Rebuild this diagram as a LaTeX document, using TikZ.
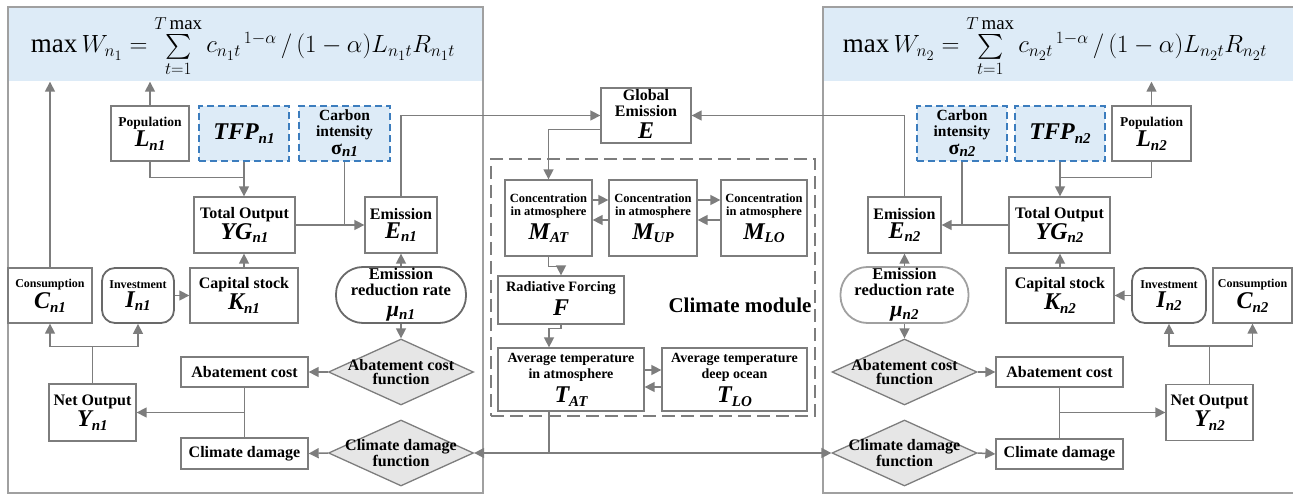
\documentclass[tikz,border=0pt]{standalone}
\usepackage{amsmath}
\usepackage{fontspec}
\setmainfont{Liberation Serif}
\usetikzlibrary{arrows.meta,shapes.geometric,calc}
\definecolor{hdrblue}{RGB}{221,235,247}
\definecolor{dblue}{RGB}{60,125,190}
\definecolor{lgray}{RGB}{125,125,125}
\definecolor{dgray}{RGB}{105,105,105}
\definecolor{pgray}{RGB}{160,160,160}
\definecolor{dfill}{RGB}{230,230,230}
\newcommand{\vb}[2]{{\fontsize{24}{26}\selectfont\bfseries\itshape #1\raisebox{-0.3ex}{\fontsize{15}{15}\selectfont #2}}}
\newcommand{\sig}[1]{{\fontsize{20}{20}\selectfont σ}\raisebox{-0.3ex}{\fontsize{15}{15}\selectfont\itshape #1}}
\newcommand{\mub}[1]{{\fontsize{22}{22}\selectfont\itshape μ}\raisebox{-0.3ex}{\fontsize{15}{15}\selectfont\itshape #1}}
\newcommand{\welf}[1]{$\max W_{n_#1} = \sum\limits_{t=1}^{T\,\mathrm{max}} {c_{n_#1t}}^{\,1-\alpha}\,/\,(1-\alpha)L_{n_#1t}R_{n_#1t}$}
\begin{document}
\begin{tikzpicture}[x=1pt,y=-1pt,
  every node/.style={inner sep=0pt},
  sz/.style 2 args={minimum width=#1pt,minimum height=#2pt},
  fz/.style 2 args={font=\bfseries\fontsize{#1}{#2}\selectfont},
  box/.style={draw=lgray,line width=1.3pt,fill=white,align=center},
  dbox/.style={draw=dblue,line width=1.3pt,dash pattern=on 7pt off 4pt,fill=hdrblue,align=center},
  rbox/.style={box,rounded corners=13pt,draw=dgray,line width=1.8pt},
  sbox/.style={box,rounded corners=27pt,line width=1.8pt},
  dia/.style={diamond,draw=lgray,line width=1.3pt,fill=dfill,minimum width=145pt,minimum height=66pt},
  dtext/.style={align=center,font=\bfseries\fontsize{16}{14}\selectfont},
  ln/.style={draw=lgray,line width=1.5pt},
  arr/.style={ln,-{Triangle[length=10pt,width=10pt]}},
  arrlr/.style={ln,{Triangle[length=10pt,width=10pt]}-{Triangle[length=10pt,width=10pt]}},
  panel/.style={draw=pgray,line width=1.3pt},
  cmbox/.style={draw=lgray,line width=1.3pt,dash pattern=on 13pt off 6pt},
  hdr/.style={fill=hdrblue,minimum height=74pt},
  frm/.style={font=\fontsize{27}{30}\selectfont},
]
\useasboundingbox (0,0) rectangle (1293,494);
% headers
\node[hdr,minimum width=473pt] (hdrL) at (245.5,44.5) {};
\node[frm] (fL) at (243,46) {\welf{1}};
\node[hdr,minimum width=470pt] (hdrR) at (1058,44.5) {};
\node[frm] (fR) at (1055,46) {\welf{2}};
% panels
\draw[panel] (8,7) rectangle (483,493);
\draw[panel] (1293,7) -- (823,7) -- (823,493) -- (1293,493);
% climate module frame
\node[cmbox,sz={324}{257}] (cm) at (653,287.5) {};
\node[fz={21}{21}] (cml) at (740,305) {Climate module};

% left nodes
\node[box,sz={78}{55},fz={13.5}{15}] (popL) at (150,133.5) {Population\\[1pt]\vb{L}{n1}};
\node[dbox,sz={90}{55},fz={16}{17}] (tfpL) at (244,133.5) {\vb{TFP}{n1}};
\node[dbox,sz={91}{55},fz={15.5}{16}] (ciL) at (344.5,133.5) {Carbon\\intensity\\[2pt]\sig{n1}};
\node[box,sz={101}{56},fz={16}{17}] (ygL) at (244.5,225) {Total Output\\[1pt]\vb{YG}{n1}};
\node[box,sz={72}{56},fz={16}{17}] (emL) at (401,225) {Emission\\[2pt]\vb{E}{n1}};
\node[box,sz={84}{55},fz={12}{13}] (conL) at (50,295.5) {Consumption\\[2pt]\vb{C}{n1}};
\node[rbox,sz={72}{55},fz={12}{13}] (invL) at (138,295.5) {Investment\\[2pt]\vb{I}{n1}};
\node[box,sz={108}{55},fz={16}{17}] (capL) at (244,295.5) {Capital stock\\[1pt]\vb{K}{n1}};
\node[sbox,draw=dgray,sz={130}{56},fz={16.5}{16}] (murL) at (401,295) {Emission\\reduction rate\\[5pt]\mub{n1}};
\node[dia] (acfL) at (401,372) {};
\node[dtext] (acfLt) at (401,372) {Abatement cost\\function};
\node[box,sz={127}{30},fz={16}{17}] (acL) at (244.5,372) {Abatement cost};
\node[box,sz={87}{57},fz={16}{17}] (noL) at (92.5,412.5) {Net Output\\[1pt]\vb{Y}{n1}};
\node[box,sz={127}{31},fz={16}{17}] (cdL) at (244.5,453.5) {Climate damage};
\node[dia] (cdfL) at (401,453) {};
\node[dtext] (cdfLt) at (401,453) {Climate damage\\function};

% middle nodes
\node[box,sz={90}{55},fz={16}{16}] (ge) at (646,115.5) {Global\\Emission\\[6pt]\vb{E}{}};
\node[box,sz={87}{76},fz={12.5}{13.5}] (mat) at (548.5,218) {Concentration\\in atmosphere\\[4pt]\vb{M}{AT}};
\node[box,sz={88}{76},fz={12.5}{13.5}] (mup) at (653,218) {Concentration\\in atmosphere\\[4pt]\vb{M}{UP}};
\node[box,sz={86}{76},fz={12.5}{13.5}] (mlo) at (764,218) {Concentration\\in atmosphere\\[4pt]\vb{M}{LO}};
\node[box,sz={126}{48},fz={14.3}{16}] (rf) at (561,300) {Radiative Forcing\\[4pt]\vb{F}{}};
\node[box,sz={146}{63},fz={14}{16}] (tat) at (571,379.5) {Average temperature\\in atmosphere\\[5pt]\vb{T}{AT}};
\node[box,sz={145}{63},fz={14}{16}] (tlo) at (734.5,379.5) {Average temperature\\deep ocean\\[5pt]\vb{T}{LO}};

% right nodes
\node[dbox,sz={90}{55},fz={15.5}{16}] (ciR) at (962,133.5) {Carbon\\intensity\\[2pt]\sig{n2}};
\node[dbox,sz={90}{55},fz={16}{17}] (tfpR) at (1060,133.5) {\vb{TFP}{n2}};
\node[box,sz={79}{55},fz={13.5}{15}] (popR) at (1151.5,133.5) {Population\\[1pt]\vb{L}{n2}};
\node[box,sz={101}{56},fz={16}{17}] (ygR) at (1059.5,225) {Total Output\\[1pt]\vb{YG}{n2}};
\node[box,sz={73}{56},fz={16}{17}] (emR) at (904.5,225) {Emission\\[2pt]\vb{E}{n2}};
\node[sbox,draw=pgray,sz={128}{56},fz={16.5}{16}] (murR) at (904.5,295) {Emission\\reduction rate\\[5pt]\mub{n2}};
\node[box,sz={108}{55},fz={16}{17}] (capR) at (1060,295.5) {Capital stock\\[1pt]\vb{K}{n2}};
\node[rbox,sz={74}{55},fz={12}{13}] (invR) at (1169,295.5) {Investment\\[2pt]\vb{I}{n2}};
\node[box,sz={79}{55},fz={12}{13}] (conR) at (1252.5,295.5) {Consumption\\[2pt]\vb{C}{n2}};
\node[dia] (acfR) at (904.5,372) {};
\node[dtext] (acfRt) at (904.5,372) {Abatement cost\\function};
\node[box,sz={127}{30},fz={16}{17}] (acR) at (1059.5,372) {Abatement cost};
\node[box,sz={87}{56},fz={16}{17}] (noR) at (1209.5,412.5) {Net Output\\[1pt]\vb{Y}{n2}};
\node[dia] (cdfR) at (904.5,453) {};
\node[dtext] (cdfRt) at (904.5,453) {Climate damage\\function};
\node[box,sz={127}{30},fz={16}{17}] (cdR) at (1059.5,454) {Climate damage};

% left connectors
\draw[arr] (conL.north) -- (conL.north |- hdrL.south);
\draw[arr] (popL.north) -- (popL.north |- hdrL.south);
\draw[ln] (popL.south) |- ([yshift=19pt]ygL.north);
\draw[arr] (tfpL.south) -- (tfpL.south |- ygL.north);
\draw[ln] (ciL.south) -- (ciL.south |- ygL.east);
\draw[arr] (ygL.east) -- (emL.west);
\draw[arr] (emL.north) |- (ge.west);
\draw[arr] (capL.north) -- (capL.north |- ygL.south);
\draw[arr] (invL.east) -- (capL.west);
\draw[ln] (noL.north) -- ([yshift=37pt]noL.north) coordinate (nsL);
\draw[arr] (nsL) -| (conL.south);
\draw[arr] (nsL) -| (invL.south);
\draw[arr] (murL.north) -- (murL.north |- emL.south);
\draw[arr] (murL.south) -- (acfL.north);
\draw[arr] (acfL.west) -- (acL.east);
\draw[arr] (cdfL.west) -- (cdL.east);
\draw[ln] (acL.south) -- (cdL.north);
\draw[arr] (acL.south |- noL.east) -- (noL.east);

% middle connectors
\draw[arr] ([yshift=14pt]ge.south west) -| (mat.north);
\draw[arr] ([yshift=18pt]mat.east) -- ([yshift=18pt]mup.west);
\draw[arr] ([yshift=-2pt]mup.west) -- ([yshift=-2pt]mat.east);
\draw[arr] ([yshift=18pt]mup.east) -- ([yshift=18pt]mlo.west);
\draw[arr] ([yshift=-2pt]mlo.west) -- ([yshift=-2pt]mup.east);
\draw[arr] (mat.south) |- ([yshift=9pt]rf.north) -- (rf.north);
\draw[arr] (rf.south) -- ([yshift=-4pt]rf.south) -| ([xshift=-22pt]tat.north);
\draw[arr] ([yshift=9.5pt]tat.east) -- ([yshift=9.5pt]tlo.west);
\draw[arr] ([yshift=-7.5pt]tlo.west) -- ([yshift=-7.5pt]tat.east);
\draw[ln] ([xshift=-22pt]tat.south) -- ([xshift=-22pt]tat.south |- cdfL.east);
\draw[arrlr] (cdfL.east) -- (cdfR.west);

% right connectors
\draw[arr] (popR.north) -- (popR.north |- hdrR.south);
\draw[ln] (popR.south) |- ([yshift=19pt]ygR.north);
\draw[arr] (tfpR.south) -- (tfpR.south |- ygR.north);
\draw[ln] (ciR.south) -- (ciR.south |- ygR.west);
\draw[arr] (ygR.west) -- (emR.east);
\draw[arr] (emR.north) |- (ge.east);
\draw[arr] (capR.north) -- (capR.north |- ygR.south);
\draw[arr] (invR.west) -- (capR.east);
\draw[ln] (noR.north) -- ([yshift=38pt]noR.north) coordinate (nsR);
\draw[arr] (nsR) -| (invR.south);
\draw[arr] (nsR) -| (conR.south);
\draw[arr] (murR.north) -- (murR.north |- emR.south);
\draw[arr] (murR.south) -- (acfR.north);
\draw[arr] (acfR.east) -- (acR.west);
\draw[arr] (cdfR.east) -- (cdR.west);
\draw[ln] (acR.south) -- (cdR.north);
\draw[arr] (acR.south |- noR.west) -- (noR.west);
\end{tikzpicture}
\end{document}
